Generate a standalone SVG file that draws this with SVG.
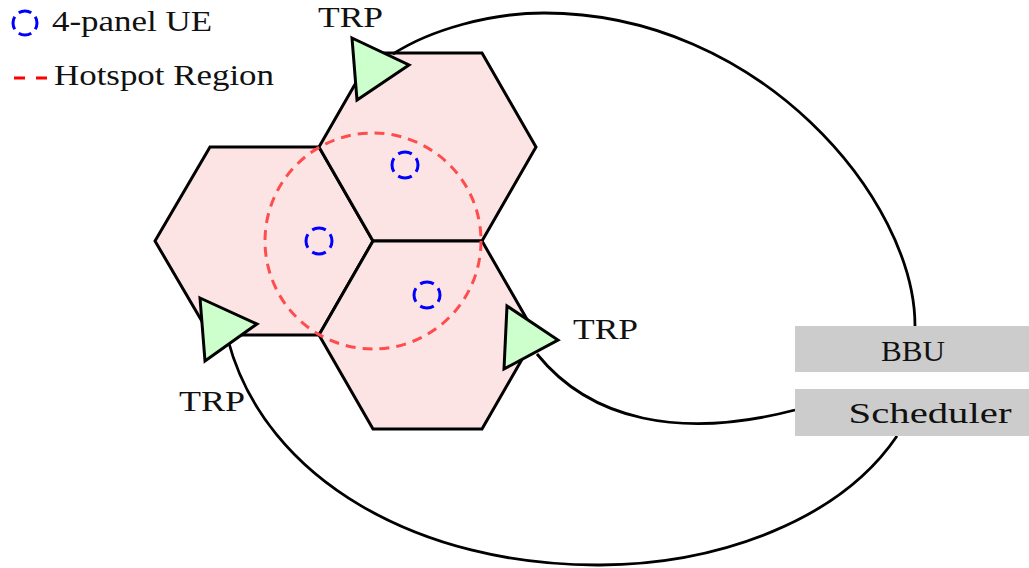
<svg xmlns="http://www.w3.org/2000/svg" width="1029" height="568" viewBox="0 0 1029 568">
<style>
.hex{fill:#fde4e4;stroke:#000;stroke-width:3;stroke-linejoin:miter}
.ue{fill:none;stroke:#0000ff;stroke-width:3;stroke-dasharray:7 3;stroke-dashoffset:3.5}
.hot{fill:none;stroke:#ff4d4d;stroke-width:3;stroke-dasharray:10 7}
.trp{fill:#ccffcc;stroke:#000;stroke-width:3;stroke-linejoin:miter}
.link{fill:none;stroke:#000;stroke-width:2.8}
.box{fill:#cccccc}
text{font-family:"Liberation Serif","DejaVu Serif",serif;font-size:29px;fill:#111}
</style>
<rect width="1029" height="568" fill="#fff"/>
<g id="legend">
<circle class="ue" cx="25" cy="23" r="12" pathLength="40"/>
<text x="52" y="31" textLength="160" lengthAdjust="spacingAndGlyphs">4-panel UE</text>
<line x1="14" y1="78" x2="48" y2="78" stroke="#ff0000" stroke-width="3" stroke-dasharray="11 11"/>
<text x="54" y="85" textLength="220" lengthAdjust="spacingAndGlyphs">Hotspot Region</text>
</g>
<g id="cells">
<polygon id="hex-left" class="hex" points="155,241 210,147 319,147 373,241 319,335 210,335"/>
<polygon id="hex-top" class="hex" points="319,147 373,53 482,53 536,147 482,241 373,241"/>
<polygon id="hex-bottom" class="hex" points="373,241 482,241 536,335 482,429 373,429 319,335"/>
</g>
<g id="hotspot">
<circle class="hot" cx="373" cy="241" r="108"/>
</g>
<g id="ues">
<circle id="ue1" class="ue" cx="319" cy="241" r="13" pathLength="40"/>
<circle id="ue2" class="ue" cx="405" cy="165" r="13" pathLength="40"/>
<circle id="ue3" class="ue" cx="427" cy="295" r="13" pathLength="40"/>
</g>
<g id="connectors">
<path class="link" d="M393,54 C430,30 490,13 544,13 C760,13 915,200 915,326"/>
<path class="link" d="M228,340 C265,480 420,566 600,565 C720,564 840,520 897,436"/>
<path class="link" d="M537,354 C590,420 680,440 795,410"/>
</g>
<g id="trp-top">
<polygon class="trp" points="352,38 409,65 357,100"/>
<text x="318" y="27" textLength="65" lengthAdjust="spacingAndGlyphs">TRP</text>
</g>
<g id="trp-left">
<polygon class="trp" points="200,298 257,324 205,361"/>
<text x="179" y="411" textLength="66" lengthAdjust="spacingAndGlyphs">TRP</text>
</g>
<g id="trp-right">
<polygon class="trp" points="507,306 558,340 504,369"/>
<text x="573" y="339" textLength="65" lengthAdjust="spacingAndGlyphs">TRP</text>
</g>
<g id="bbu">
<rect class="box" x="795" y="326" width="234" height="46"/>
<text x="913" y="361" text-anchor="middle" textLength="64" lengthAdjust="spacingAndGlyphs">BBU</text>
</g>
<g id="scheduler">
<rect class="box" x="795" y="389" width="234" height="47"/>
<text x="930" y="423" text-anchor="middle" textLength="163" lengthAdjust="spacingAndGlyphs">Scheduler</text>
</g>
</svg>
